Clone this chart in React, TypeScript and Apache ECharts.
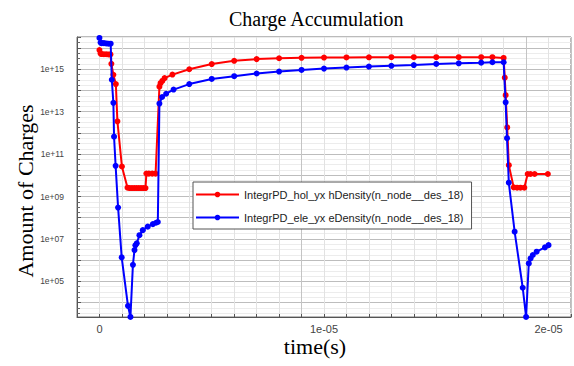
import React, { useEffect, useRef } from 'react';
import * as echarts from 'echarts';

const TITLE = 'Charge Accumulation';
const X_NAME = 'time(s)';
const Y_NAME = 'Amount of Charges';
const HOLE_NAME = 'IntegrPD_hol_yx hDensity(n_node__des_18)';
const ELE_NAME = 'IntegrPD_ele_yx eDensity(n_node__des_18)';

// time in microseconds
const holeTimeUs = [
  0, 0.05, 0.1, 0.2, 0.3, 0.4, 0.49, 0.53, 0.62, 0.73, 0.8, 1.0, 1.25, 1.35, 1.45, 1.55, 1.65, 1.75,
  1.85, 1.95, 2.05, 2.09, 2.2, 2.35, 2.5, 2.67, 2.72, 2.8, 2.9, 3.25, 4, 5, 6, 7, 8, 9, 10, 11, 12,
  13, 14, 15, 16, 17, 17.5, 18, 18.05, 18.09, 18.16, 18.23, 18.45, 18.6, 18.75, 18.92, 19.07, 19.2,
  19.38, 19.97,
];
const holeValues = [
  8e15, 5.5e15, 5.2e15, 5.1e15, 5.1e15, 5.0e15, 5.0e15, 1.8e15, 5.5e14, 2e14, 3.5e12, 2.6e10, 2.6e9,
  2.5e9, 2.5e9, 2.5e9, 2.5e9, 2.5e9, 2.5e9, 2.5e9, 2.5e9, 1.2e10, 1.2e10, 1.2e10, 1.2e10, 1.5e14,
  2.2e14, 2.8e14, 3.8e14, 5.6e14, 1e15, 1.75e15, 2.5e15, 3.0e15, 3.3e15, 3.45e15, 3.55e15, 3.6e15,
  3.65e15, 3.7e15, 3.7e15, 3.7e15, 3.7e15, 3.7e15, 3.7e15, 3.4e15, 4e14, 6e13, 1.8e12, 3e10, 2.7e9,
  2.6e9, 2.6e9, 2.6e9, 1.15e10, 1.15e10, 1.15e10, 1.15e10,
];

const eleTimeUs = [
  0, 0.05, 0.1, 0.2, 0.3, 0.4, 0.5, 0.55, 0.62, 0.65, 0.72, 0.83, 0.99, 1.27, 1.38, 1.49, 1.56, 1.6,
  1.66, 1.78, 1.93, 2.15, 2.38, 2.52, 2.6, 2.67, 2.79, 2.97, 3.3, 4, 5, 6, 7, 8, 9, 10, 11, 12, 13,
  14, 15, 16, 17, 17.5, 18, 18.09, 18.15, 18.23, 18.49, 18.85, 19.0, 19.12, 19.2, 19.3, 19.47, 19.84,
  20.0,
];
const eleValues = [
  3e16, 1.8e16, 1.7e16, 1.7e16, 1.65e16, 1.6e16, 1.6e16, 3.2e14, 2.6e13, 6.6e11, 2.8e10, 3e8, 1.35e6,
  7000, 2100, 6e5, 3e6, 5e6, 6.2e6, 1.5e7, 2.6e7, 3.8e7, 5e7, 5.8e7, 6.3e7, 2.4e13, 4.9e13, 7e13,
  1.1e14, 2e14, 3.5e14, 4.7e14, 6.3e14, 7.8e14, 9.3e14, 1.07e15, 1.2e15, 1.33e15, 1.45e15, 1.58e15,
  1.78e15, 1.9e15, 2.05e15, 2.14e15, 2.14e15, 2.75e13, 5.6e11, 4.5e9, 2.2e7, 5e4, 2100, 7e5, 1.2e6,
  1.75e6, 2.5e6, 4e6, 5.1e6,
];

const xTickLabels = ['0', '1e-05', '2e-05'];

// y plotted on a decade (log10) value axis
const toPairs = (ts: number[], vs: number[]) => ts.map((t, i) => [t * 1e-6, Math.log10(vs[i])]);

export default function App() {
  const ref = useRef<HTMLDivElement>(null);
  useEffect(() => {
    const chart = echarts.init(ref.current!, null, { renderer: 'svg' });
    const sans = 'Liberation Sans';
    const serif = 'Liberation Serif';
    const xMin = -1e-6;
    const xMax = 2.1e-5;
    chart.setOption({
      animation: false,
      backgroundColor: '#ffffff',
      title: {
        text: TITLE,
        left: 224,
        top: 4,
        textStyle: { fontFamily: serif, fontSize: 20, fontWeight: 'normal', color: '#000' },
      },
      grid: {
        left: 77,
        right: 2,
        top: 37,
        bottom: 49,
        show: true,
        borderColor: '#777',
        borderWidth: 1,
        backgroundColor: '#fff',
      },
      legend: {
        orient: 'vertical',
        left: 193,
        top: 182,
        itemWidth: 43,
        itemHeight: 7,
        itemGap: 12,
        padding: [7, 8, 6, 2],
        backgroundColor: '#fff',
        borderColor: '#555',
        borderWidth: 1,
        textStyle: { fontFamily: sans, fontSize: 11, color: '#222' },
        data: [HOLE_NAME, ELE_NAME],
      },
      xAxis: [
        {
          type: 'value',
          min: xMin,
          max: xMax,
          interval: 1e-6,
          axisLine: { show: true, onZero: false, lineStyle: { color: '#555' } },
          axisTick: { show: true, inside: true, length: 3, lineStyle: { color: '#555' } },
          axisLabel: {
            margin: 6,
            fontFamily: sans,
            fontSize: 11,
            color: '#444',
            formatter: (v: number) => {
              const k = Math.round(v / 1e-5);
              return Math.abs(v - k * 1e-5) < 1e-9 && k >= 0 && k < xTickLabels.length ? xTickLabels[k] : '';
            },
          },
          splitLine: { show: true, lineStyle: { color: '#e2e2e2', width: 1 } },
        },
        {
          type: 'value',
          min: xMin,
          max: xMax,
          position: 'bottom',
          interval: 1e-5,
          axisLine: { show: false },
          axisTick: { show: false },
          axisLabel: { show: false },
          splitLine: { show: true, lineStyle: { color: '#c4c4c4', width: 1 } },
        },
      ],
      yAxis: {
        type: 'value',
        min: 3.32,
        max: 16.52,
        splitNumber: 13,
        axisLine: { show: true, onZero: false, lineStyle: { color: '#555' } },
        axisTick: { show: true, inside: true, length: 4, lineStyle: { color: '#555' } },
        minorTick: { show: true, splitNumber: 4, length: 3, lineStyle: { color: '#666' } },
        minorSplitLine: { show: true, lineStyle: { color: '#ececec' } },
        axisLabel: {
          margin: 13,
          fontFamily: sans,
          fontSize: 8.5,
          color: '#444',
          showMinLabel: false,
          showMaxLabel: false,
          formatter: (v: number) => {
            const r = Math.round(v);
            if (Math.abs(v - r) > 1e-6 || Math.abs(r % 2) !== 1) return '';
            return '1e+' + String(r).padStart(2, '0');
          },
        },
        splitLine: { show: true, lineStyle: { color: '#bdbdbd', width: 1.2 } },
      },
      graphic: [
        {
          type: 'text',
          x: 315,
          y: 346,
          style: {
            text: X_NAME,
            font: '22px "Liberation Serif"',
            fill: '#000',
            textAlign: 'center',
            textVerticalAlign: 'middle',
          },
        },
        {
          type: 'text',
          x: 25,
          y: 191,
          rotation: Math.PI / 2,
          style: {
            text: Y_NAME,
            font: '22px "Liberation Serif"',
            fill: '#000',
            textAlign: 'center',
            textVerticalAlign: 'middle',
          },
        },
      ],
      series: [
        {
          name: HOLE_NAME,
          type: 'line',
          data: toPairs(holeTimeUs, holeValues),
          symbol: 'circle',
          symbolSize: 6,
          showAllSymbol: true,
          color: '#ff0000',
          lineStyle: { color: '#ff0000', width: 2 },
          itemStyle: { color: '#ff0000' },
          z: 3,
        },
        {
          name: ELE_NAME,
          type: 'line',
          data: toPairs(eleTimeUs, eleValues),
          symbol: 'circle',
          symbolSize: 6,
          showAllSymbol: true,
          color: '#0000ff',
          lineStyle: { color: '#0000ff', width: 2 },
          itemStyle: { color: '#0000ff' },
          z: 4,
        },
      ],
    });
    return () => chart.dispose();
  }, []);
  return (
    <div
      ref={ref}
      style={{ position: 'absolute', left: 0, top: 0, width: 574, height: 366 }}
    />
  );
}
